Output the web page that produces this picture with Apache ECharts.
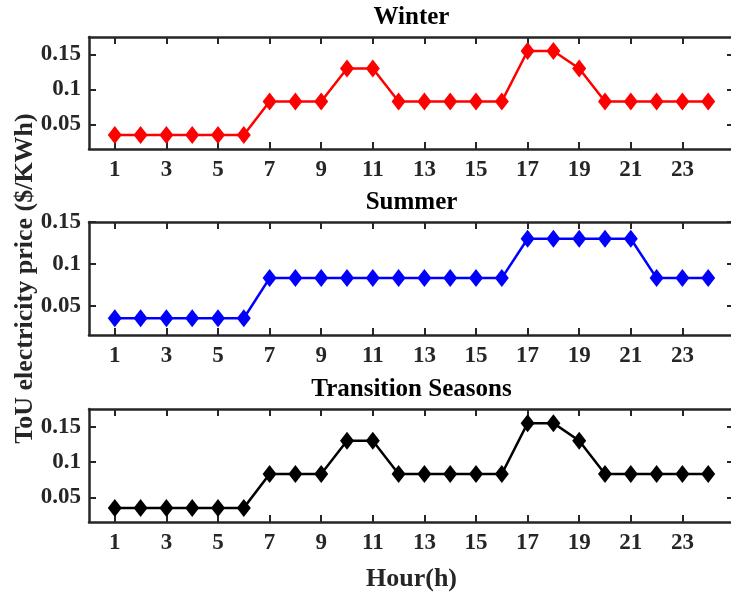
<!DOCTYPE html>
<html>
<head>
<meta charset="utf-8">
<script src="https://cdn.jsdelivr.net/npm/echarts@6/dist/echarts.min.js"></script>
<style>html,body{margin:0;padding:0;background:#fff}#c{width:731px;height:596px}</style>
</head>
<body>
<div id="c"></div>
<script>
const hours = [1,2,3,4,5,6,7,8,9,10,11,12,13,14,15,16,17,18,19,20,21,22,23,24];
const xTickLabels = [1,3,5,7,9,11,13,15,17,19,21,23];
const yTickLabels = [0.05, 0.1, 0.15];
const titles = ['Winter', 'Summer', 'Transition Seasons'];
const winter = [0.035,0.035,0.035,0.035,0.035,0.035,0.083,0.083,0.083,0.13,0.13,0.083,0.083,0.083,0.083,0.083,0.155,0.155,0.13,0.083,0.083,0.083,0.083,0.083];
const summer = [0.035,0.035,0.035,0.035,0.035,0.035,0.083,0.083,0.083,0.083,0.083,0.083,0.083,0.083,0.083,0.083,0.13,0.13,0.13,0.13,0.13,0.083,0.083,0.083];
const transition = [0.035,0.035,0.035,0.035,0.035,0.035,0.083,0.083,0.083,0.13,0.13,0.083,0.083,0.083,0.083,0.083,0.155,0.155,0.13,0.083,0.083,0.083,0.083,0.083];
const yRanges = [[0.015,0.175],[0.015,0.15],[0.015,0.175]];
const colors = ['#ff0000','#0000ff','#000000'];
const seriesData = [winter, summer, transition];

const FONT = 'Liberation Serif';
const AX = '#262626';
const FS = 23;
const FT = 25;
const FN = 26;
const gridTops = [37, 222, 409];
const gridH = [112, 113, 113];

const chart = echarts.init(document.getElementById('c'));
const grids = [], xAxes = [], yAxes = [], series = [], title = [];
for (let i = 0; i < 3; i++) {
  grids.push({left: 89, width: 645, top: gridTops[i], height: gridH[i], containLabel: false, outerBoundsMode: 'none'});
  title.push({text: titles[i], left: 411.5, top: gridTops[i] - 32, textAlign: 'center', padding: 0,
    textStyle: {fontFamily: FONT, fontWeight: 'bold', fontSize: FT, color: '#000'}});
  const axLine = {show: true, onZero: false, lineStyle: {color: AX, width: 2.5}};
  const tick = {show: true, inside: true, length: 7, lineStyle: {color: AX, width: 2}, customValues: xTickLabels};
  xAxes.push({type: 'value', gridIndex: i, position: 'bottom', min: 0, max: 25,
    axisLine: axLine, axisTick: tick, splitLine: {show: false},
    axisLabel: {customValues: xTickLabels, margin: 10, fontFamily: FONT, fontWeight: 'bold', fontSize: FS, color: AX},
    name: i === 2 ? 'Hour(h)' : '', nameLocation: 'middle', nameGap: 44, nameMoveOverlap: false,
    nameTextStyle: {fontFamily: FONT, fontWeight: 'bold', fontSize: FN, color: AX}});
  xAxes.push({type: 'value', gridIndex: i, position: 'top', min: 0, max: 25,
    axisLine: axLine, axisTick: tick, splitLine: {show: false}, axisLabel: {show: false}});
  const ytick = {show: true, inside: true, length: 7, lineStyle: {color: AX, width: 2}, customValues: yTickLabels};
  yAxes.push({type: 'value', gridIndex: i, position: 'left', min: yRanges[i][0], max: yRanges[i][1],
    axisLine: axLine, axisTick: ytick, splitLine: {show: false},
    axisLabel: {customValues: yTickLabels, margin: 8, fontFamily: FONT, fontWeight: 'bold', fontSize: FS, color: AX,
      formatter: v => String(Math.round(v * 100) / 100)},
    name: i === 1 ? 'ToU electricity price ($/KWh)' : '', nameLocation: 'middle', nameRotate: 90, nameGap: 51,
    nameMoveOverlap: false,
    nameTextStyle: {fontFamily: FONT, fontWeight: 'bold', fontSize: FN, color: AX}});
  yAxes.push({type: 'value', gridIndex: i, position: 'right', min: yRanges[i][0], max: yRanges[i][1],
    axisLine: axLine, axisTick: ytick, splitLine: {show: false}, axisLabel: {show: false}});
  series.push({type: 'line', xAxisIndex: 2 * i, yAxisIndex: 2 * i,
    data: hours.map((h, k) => [h, seriesData[i][k]]),
    lineStyle: {color: colors[i], width: 2.5}, itemStyle: {color: colors[i]},
    symbol: 'diamond', symbolSize: [14, 18], showSymbol: true, animation: false, z: 3});
}
chart.setOption({animation: false, title, grid: grids, xAxis: xAxes, yAxis: yAxes, series});
</script>
</body>
</html>
